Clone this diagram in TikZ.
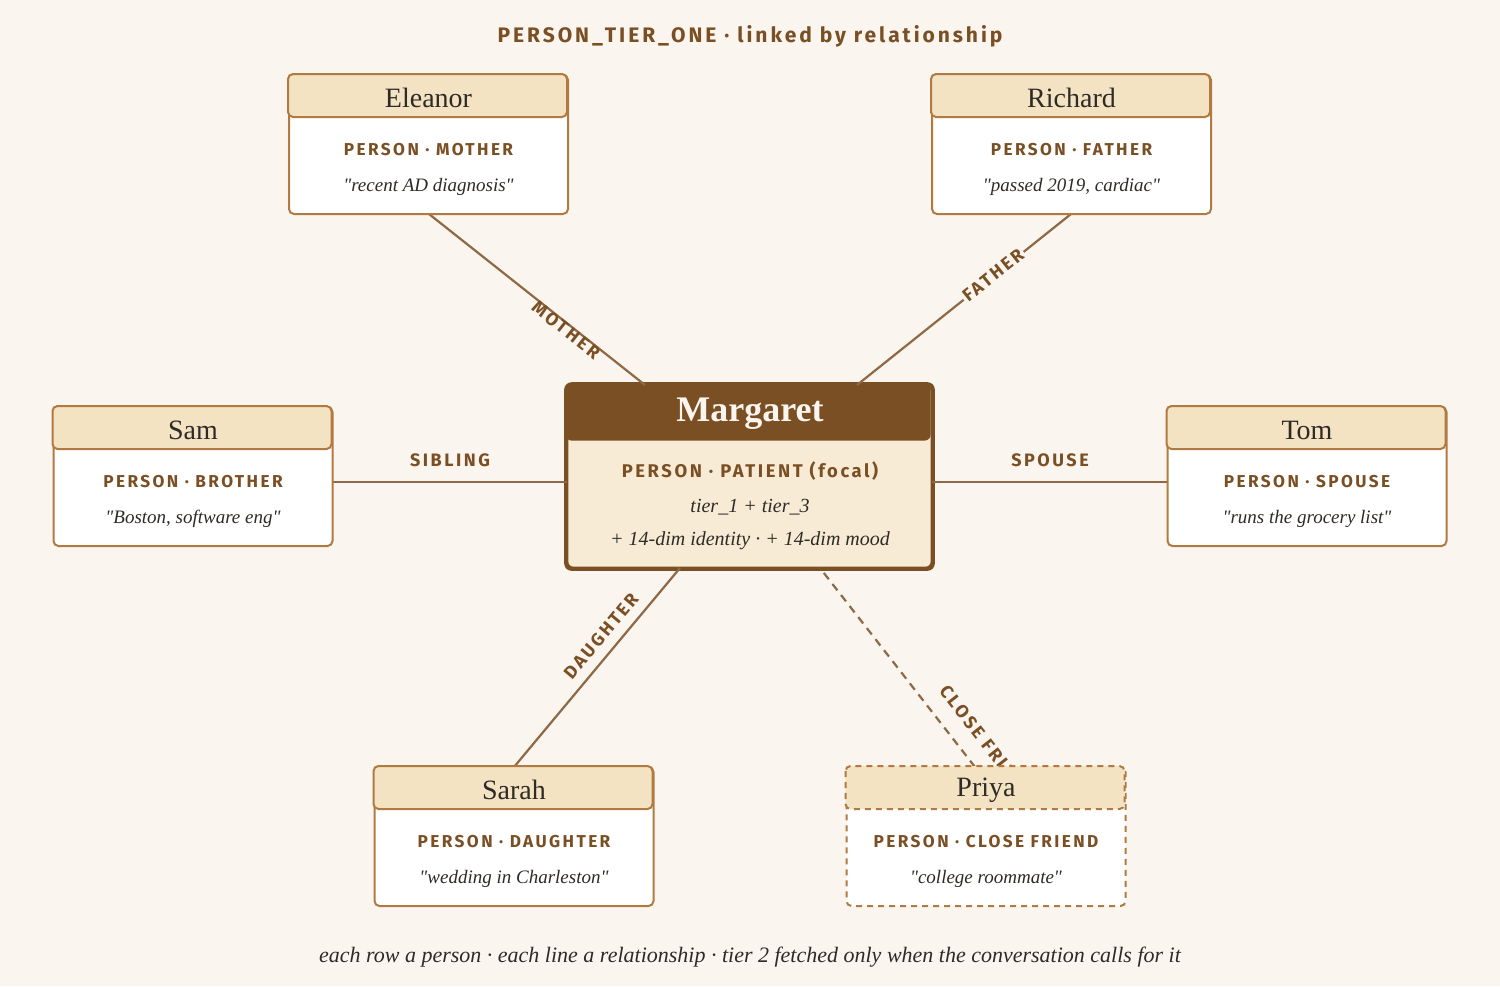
\documentclass[tikz,border=0pt]{standalone}
\usepackage{fontspec}
\setmainfont{Liberation Serif}
\newfontfamily\capsfont[LetterSpace=14]{Fira Sans}
\usetikzlibrary{calc}
\definecolor{bg}{HTML}{FAF5EE}
\definecolor{hdrfill}{HTML}{F3E3C3}
\definecolor{edge}{HTML}{B07A40}
\definecolor{brown}{HTML}{7A4F24}
\definecolor{ink}{HTML}{2E2A26}
\newcommand\qq{\textquotedbl}
\tikzset{
  card/.style={draw=edge, line width=1pt, fill=white, rounded corners=2.5pt,
    minimum width=139.5pt, minimum height=69.5pt, inner sep=0pt},
  hdr/.style={draw=edge, line width=1pt, fill=hdrfill, rounded corners=2.5pt},
  link/.style={draw=brown!85, line width=1.1pt},
  rel/.style={text=brown, font=\capsfont\bfseries\fontsize{9}{10}\selectfont, inner sep=1pt},
  role/.style={text=brown, font=\capsfont\bfseries\fontsize{8.6}{10}\selectfont},
  quote/.style={text=ink, font=\itshape\fontsize{9.5}{11}\selectfont},
  title/.style={text=ink, font=\fontsize{14}{16}\selectfont}
}
% #1 extra style, #2 name, #3 centre x, #4 top y, #5 title, #6 role, #7 quote
\newcommand\card[7][]{%
  \node[card,#1] (#2) at (#3,#4+69.5) {};
  \draw[hdr,#1] (#2.north west) rectangle ++(279,43);
  \node[title] (#2-t) at (#3,#4+23) {#5};
  \node[role] (#2-r) at (#3,#4+75) {#6};
  \node[quote] (#2-q) at (#3,#4+112) {#7};
}
\begin{document}
\begin{tikzpicture}[x=0.5pt, y=-0.5pt]
\useasboundingbox[fill=bg] (0,0) rectangle (1500,986);
\node[rel, font=\capsfont\bfseries\fontsize{10.5}{12}\selectfont] (head) at (750,36)
  {PERSON\_TIER\_ONE · linked by relationship};

% focal person
\node[draw=brown, line width=1.4pt, fill=hdrfill!70, rounded corners=3pt,
  minimum width=182.5pt, minimum height=91.5pt, inner sep=0pt] (margaret) at (749.5,476.5) {};
\fill[brown, rounded corners=3pt] (margaret.north west) rectangle ++(365,57);
\draw[brown, line width=1.4pt, rounded corners=3pt] (margaret.north west) rectangle (margaret.south east);
\node[text=bg, font=\bfseries\fontsize{18}{20}\selectfont] (margaret-t) at (750,414) {Margaret};
\node[role, font=\capsfont\bfseries\fontsize{9.2}{10}\selectfont] (margaret-r) at (750,471) {PERSON · PATIENT (focal)};
\node[quote, font=\itshape\fontsize{10}{12}\selectfont] (margaret-q1) at (750,507) {tier\_1 + tier\_3};
\node[quote, font=\itshape\fontsize{10}{12}\selectfont] (margaret-q2) at (750,541) {+ 14-dim identity · + 14-dim mood};

% links
\coordinate (m-nw) at (645,385);
\coordinate (m-ne) at (857,385);
\coordinate (m-w) at (567,482);
\coordinate (m-e) at (932,482);
\coordinate (m-sw) at (680,568);
\coordinate (m-se) at (820,568);
\coordinate (priya-top) at (975,767);
\draw[link] (429,214) -- (m-nw);
\draw[link] (1071,214) -- (m-ne);
\draw[link] (332,482) -- (m-w);
\draw[link] (1168,482) -- (m-e);
\draw[link] (514,767) -- (m-sw);
\draw[link, dash pattern=on 4pt off 3pt] (priya-top) -- (m-se);

\node[rel, rotate=-38.4] (l-mother) at (566,330) {MOTHER};
\node[rel, rotate=38.6, fill=bg] (l-father) at (993,275) {FATHER};
\node[rel] (l-sibling) at (450,460) {SIBLING};
\node[rel] (l-spouse) at (1050,460) {SPOUSE};
\node[rel, rotate=50.2] (l-daughter) at (601,636) {DAUGHTER};
\begin{scope}
\clip (900,600) rectangle (1100,766);
\node[rel, rotate=-52, anchor=west] (l-friend) at (942,686) {CLOSE FRIEND};
\end{scope}

% people
\card{eleanor}{428.5}{75}{Eleanor}{PERSON · MOTHER}{\qq recent AD diagnosis\qq}
\card{richard}{1071.5}{75}{Richard}{PERSON · FATHER}{\qq passed 2019, cardiac\qq}
\card{sam}{193}{407}{Sam}{PERSON · BROTHER}{\qq Boston, software eng\qq}
\card{tom}{1307}{407}{Tom}{PERSON · SPOUSE}{\qq runs the grocery list\qq}
\card{sarah}{514}{767}{Sarah}{PERSON · DAUGHTER}{\qq wedding in Charleston\qq}
\card[dash pattern=on 3pt off 2.5pt]{priya}{986}{767}{Priya}{PERSON · CLOSE FRIEND}{\qq college roommate\qq}

\node[quote, font=\itshape\fontsize{11}{13}\selectfont] (foot) at (750,957)
  {each row a person · each line a relationship · tier 2 fetched only when the conversation calls for it};
\end{tikzpicture}
\end{document}
